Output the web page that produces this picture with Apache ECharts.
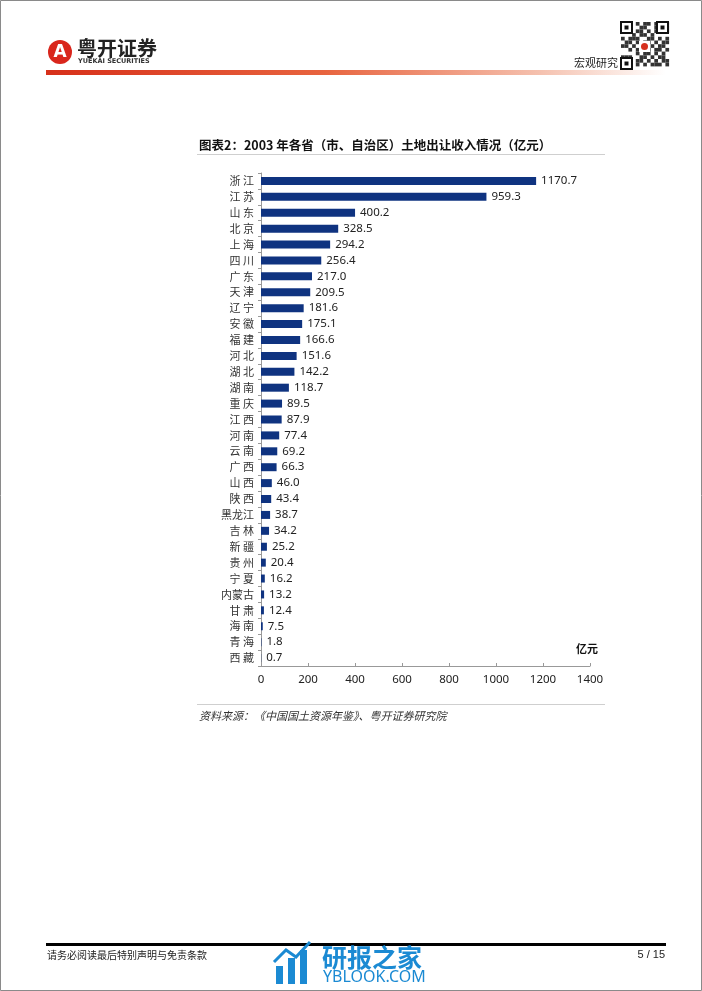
<!DOCTYPE html>
<html>
<head>
<meta charset="utf-8">
<script src="https://cdn.jsdelivr.net/npm/echarts@6/dist/echarts.min.js"></script>
<style>
html,body{margin:0;padding:0;background:#fff;}
#c{width:702px;height:991px;}
</style>
</head>
<body>
<div id="c"></div>
<script>
const provinces = ['浙江','江苏','山东','北京','上海','四川','广东','天津','辽宁','安徽','福建','河北','湖北','湖南','重庆','江西','河南','云南','广西','山西','陕西','黑龙江','吉林','新疆','贵州','宁夏','内蒙古','甘肃','海南','青海','西藏'];
const values = [1170.7,959.3,400.2,328.5,294.2,256.4,217.0,209.5,181.6,175.1,166.6,151.6,142.2,118.7,89.5,87.9,77.4,69.2,66.3,46.0,43.4,38.7,34.2,25.2,20.4,16.2,13.2,12.4,7.5,1.8,0.7];
const xTicks = {min: 0, max: 1400, interval: 200};
const titleText = '图表2：2003 年各省（市、自治区）土地出让收入情况（亿元）';
const unitText = '亿元';
const sourceText = '资料来源：《中国国土资源年鉴》、粤开证券研究院';

const cjk = '"Noto Sans CJK SC", sans-serif';
const chart = echarts.init(document.getElementById('c'), null, {renderer: 'canvas'});

// pseudo QR decoration (fixed pattern)
const qrRows = [
 '1110101101111',
 '1010011001101',
 '1110110101111',
 '0001011010000',
 '1011100110101',
 '0110101101011',
 '1101011010110',
 '0010110101101',
 '0000101101010',
 '1110011010110',
 '1010110101011',
 '1110101011101'
];
const qr = [];
const qx = 621, qy = 22, cs = 3.7;
qrRows.forEach((row, r) => {
  for (let c = 0; c < row.length; c++) {
    if (row[c] === '1') qr.push({type:'rect', shape:{x:qx + c*cs, y:qy + r*cs, width:cs, height:cs}, style:{fill:'#333'}, silent:true});
  }
});
[[qx,qy],[qx+36,qy],[qx,qy+36]].forEach(p=>{
  qr.push({type:'rect', shape:{x:p[0],y:p[1],width:11,height:11}, style:{fill:'#fff',stroke:'#111',lineWidth:2}});
  qr.push({type:'rect', shape:{x:p[0]+3.5,y:p[1]+3.5,width:4,height:4}, style:{fill:'#111'}});
});
qr.push({type:'rect', shape:{x:qx+18,y:qy+19,width:11,height:11}, style:{fill:'#fff'}});
qr.push({type:'circle', shape:{cx:qx+23.5,cy:qy+24.5,r:3.5}, style:{fill:'#d6301f'}});

const option = {
  animation: false,
  backgroundColor: '#ffffff',
  grid: {left: 261, right: 112, top: 173, bottom: 325, containLabel: false},
  xAxis: {
    type: 'value',
    min: xTicks.min, max: xTicks.max, interval: xTicks.interval,
    axisLine: {show: true, lineStyle: {color: '#999', width: 1}},
    axisTick: {show: true, inside: true, length: 3, lineStyle: {color: '#999'}},
    splitLine: {show: false},
    axisLabel: {color: '#222', fontSize: 11.5, fontFamily: '"Noto Sans", sans-serif', margin: 8,
      formatter: v => String(v)}
  },
  yAxis: {
    type: 'category',
    data: provinces,
    inverse: true,
    axisLine: {show: true, lineStyle: {color: '#999', width: 1}},
    axisTick: {show: true, length: 3, lineStyle: {color: '#999'}},
    axisLabel: {
      color: '#333', fontSize: 11, fontFamily: cjk, margin: 7,
      formatter: v => v.length === 2 ? v[0] + ' ' + v[1] : v
    }
  },
  series: [{
    type: 'bar',
    data: values,
    barWidth: 8,
    itemStyle: {color: '#0f3380'},
    label: {
      show: true, position: 'right', distance: 5,
      color: '#222', fontSize: 11.5, fontFamily: '"Noto Sans", sans-serif',
      formatter: p => p.value.toFixed(1)
    }
  }],
  graphic: [
    // page frame
    {type:'rect', shape:{x:0.5,y:0.5,width:701,height:990}, style:{fill:'none',stroke:'#8a8a8a',lineWidth:1}, silent:true},
    // logo
    {type:'circle', shape:{cx:60, cy:52, r:12}, style:{fill:'#d9261c'}},
    {type:'text', style:{text:'A', x:60, y:53, fill:'#fff', font:'bold 17px "DejaVu Sans"', align:'center', verticalAlign:'middle'}},
    {type:'text', style:{text:'粤开证券', x:77, y:38, fill:'#222', font:'bold 20px ' + cjk, verticalAlign:'top'}},
    {type:'text', style:{text:'YUEKAI SECURITIES', x:78, y:58, fill:'#333', font:'bold 6.5px "DejaVu Sans"', verticalAlign:'top'}},
    // red gradient line
    {type:'rect', shape:{x:46, y:70, width:620, height:5},
      style:{fill: new echarts.graphic.LinearGradient(0,0,1,0,[
        {offset:0,color:'#d7301a'},{offset:0.45,color:'#e8643f'},{offset:0.8,color:'#f5c2b0'},{offset:1,color:'#ffffff'}])}},
    {type:'text', style:{text:'宏观研究', x:618, y:63, fill:'#222', font:'11px ' + cjk, align:'right', verticalAlign:'middle'}},
    ...qr,
    // title
    {type:'text', style:{text:titleText, x:199, y:145, fill:'#111', font:'bold 12.5px ' + cjk, verticalAlign:'middle'}},
    {type:'rect', shape:{x:197, y:154, width:408, height:1}, style:{fill:'#cfcfcf'}},
    // unit
    {type:'text', style:{text:unitText, x:587, y:649, fill:'#111', font:'bold 11px ' + cjk, align:'center', verticalAlign:'middle'}},
    // source
    {type:'rect', shape:{x:197, y:704, width:408, height:1}, style:{fill:'#cfcfcf'}},
    {type:'text', style:{text:sourceText, x:199, y:716, fill:'#333', font:'italic 11px ' + cjk, verticalAlign:'middle'}},
    // footer
    {type:'rect', shape:{x:46, y:943, width:620, height:3}, style:{fill:'#000'}},
    {type:'text', style:{text:'请务必阅读最后特别声明与免责条款', x:47, y:955, fill:'#222', font:'10px ' + cjk, verticalAlign:'middle'}},
    {type:'text', style:{text:'5 / 15', x:665, y:955, fill:'#222', font:'11px "Liberation Sans"', align:'right', verticalAlign:'middle'}},
    // watermark
    {type:'rect', shape:{x:276, y:966, width:7, height:18}, style:{fill:'#1b8ad3'}},
    {type:'rect', shape:{x:288, y:958, width:7, height:26}, style:{fill:'#1b8ad3'}},
    {type:'rect', shape:{x:300, y:950, width:7, height:34}, style:{fill:'#1b8ad3'}},
    {type:'polyline', shape:{points:[[274,962],[286,950],[296,957],[310,942]]}, style:{stroke:'#1b8ad3', lineWidth:3, fill:'none'}},
    {type:'text', style:{text:'研报之家', x:322, y:957, fill:'#1b8ad3', font:'bold 25px ' + cjk, verticalAlign:'middle'}},
    {type:'text', style:{text:'YBLOOK.COM', x:323, y:977, fill:'#1b8ad3', font:'16px "Noto Sans"', verticalAlign:'middle'}}
  ]
};
chart.setOption(option);
</script>
</body>
</html>
